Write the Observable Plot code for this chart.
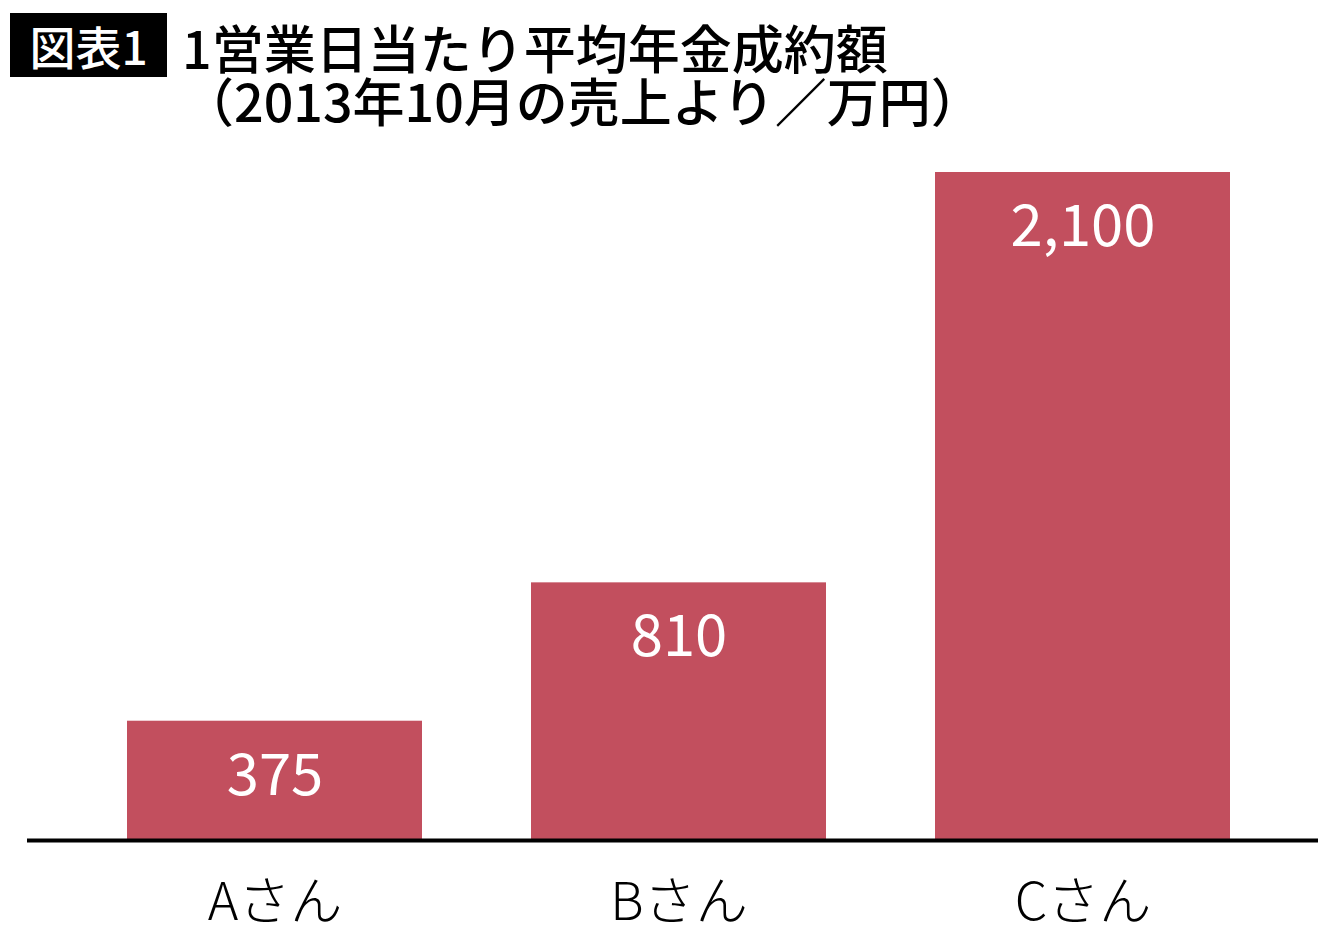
<!DOCTYPE html>
<html>
<head>
<meta charset="utf-8">
<script src="https://cdn.jsdelivr.net/npm/d3@7"></script>
<script src="https://cdn.jsdelivr.net/npm/@observablehq/plot@0.6"></script>
<style>
  body { margin: 0; background: #fff; font-family: "Noto Sans CJK JP", sans-serif; }
  #head { position: relative; height: 140px; }
  #tag { position: absolute; left: 10px; top: 13px; width: 157px; height: 64px; background: #000; color: #fff;
         font-size: 46px; font-weight: 500; line-height: 64px; text-align: center; }
  #title { position: absolute; left: 182px; top: 20px; font-size: 52px; font-weight: 500; line-height: 53px; white-space: nowrap; }
</style>
</head>
<body>
<div id="head">
  <div id="tag">図表1</div>
  <div id="title">1営業日当たり平均年金成約額<br>（2013年10月の売上より／万円）</div>
</div>
<div id="chart"></div>
<script>
const names = ['Aさん', 'Bさん', 'Cさん']
const values = [375, 810, 2100]

const data = names.map((n, i) => ({name: n, value: values[i]}))

let chart = Plot.plot({
  width: 1340,
  height: 808,
  marginTop: 32,
  marginBottom: 108,
  marginLeft: 27,
  marginRight: 22,
  x: {
    domain: names,
    paddingInner: 0.27,
    paddingOuter: 0.2326,
    align: 0.53,
    label: null,
  },
  y: {
    domain: [0, 2100],
    axis: null,
  },
  style: {
    fontFamily: '"Noto Sans CJK JP", sans-serif',
    color: 'black',
  },
  marks: [
    Plot.barY(data, {x: 'name', y: 'value', fill: '#c24f5e'}),
    Plot.text(data, {
      x: 'name',
      y: 'value',
      text: d => d3.format(',')(d.value),
      fill: 'white',
      fontSize: 58,
      fontWeight: 400,
      lineAnchor: 'middle',
      dy: 55,
    }),
    Plot.ruleY([0], {stroke: 'black', strokeWidth: 4}),
    Plot.axisX({tickSize: 0, tickPadding: 43, fontSize: 52, fontWeight: 300, label: null}),
  ],
})

d3.select('#chart').append(() => chart)
</script>
</body>
</html>
